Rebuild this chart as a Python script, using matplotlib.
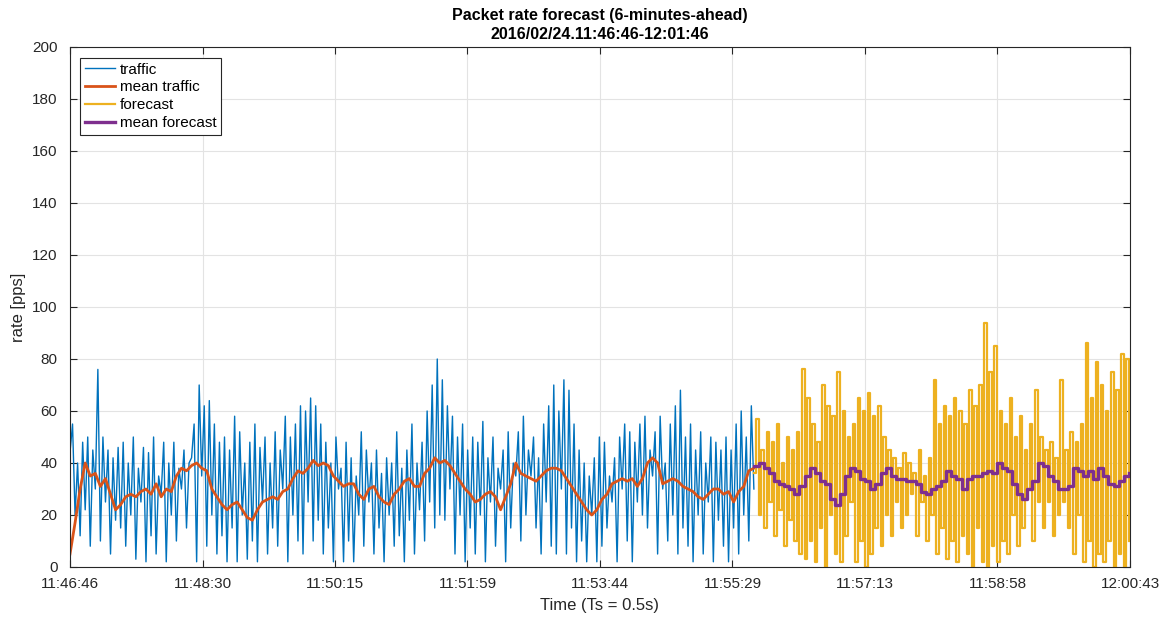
import numpy as np
import matplotlib.pyplot as plt
from datetime import datetime, timedelta

# ---- Data ---- #
start = datetime(2016, 2, 24, 11, 46, 46)
span_s = 837          # x axis length in seconds (11:46:46 -> 12:00:43)
dt_traffic = 2.0      # s between plotted traffic samples
dt_mean = 4.0
fc_start = 540.0

traffic = [
    44, 55, 20, 40, 12, 48, 22, 50, 8, 45, 30, 76, 10, 50, 25, 45, 5, 42, 18, 46,
    15, 48, 8, 40, 20, 50, 3, 38, 25, 46, 2, 44, 12, 50, 5, 35, 28, 48, 2, 40,
    20, 48, 10, 38, 30, 45, 15, 40, 42, 55, 2, 70, 35, 62, 8, 64, 20, 55, 5, 48,
    12, 50, 2, 45, 15, 58, 2, 52, 20, 40, 3, 48, 10, 55, 2, 46, 25, 50, 5, 40,
    15, 52, 8, 45, 30, 58, 2, 50, 20, 55, 10, 62, 5, 60, 25, 65, 10, 62, 18, 55,
    5, 48, 15, 40, 2, 50, 30, 38, 2, 48, 10, 42, 2, 35, 20, 52, 8, 45, 25, 40,
    5, 45, 15, 36, 2, 42, 20, 40, 8, 52, 12, 38, 2, 45, 18, 55, 5, 40, 22, 48,
    10, 60, 25, 70, 15, 80, 20, 72, 18, 62, 30, 58, 5, 50, 20, 55, 2, 45, 15, 50,
    5, 48, 20, 56, 2, 42, 25, 50, 8, 38, 30, 45, 2, 52, 15, 40, 35, 52, 10, 58,
    20, 45, 35, 50, 15, 42, 5, 55, 25, 62, 8, 70, 5, 60, 30, 72, 5, 68, 15, 55,
    2, 45, 10, 40, 2, 35, 20, 42, 2, 50, 8, 48, 15, 35, 25, 42, 2, 50, 30, 55,
    10, 52, 2, 48, 25, 55, 20, 58, 15, 45, 35, 52, 5, 58, 30, 40, 10, 55, 20, 62,
    5, 68, 15, 50, 8, 55, 2, 45, 20, 52, 5, 40, 25, 50, 2, 48, 18, 45, 8, 50,
    2, 45, 15, 55, 5, 60, 20, 50, 10, 62, 30,
]

mean_traffic = [
    5, 17, 30, 40, 35, 36, 31, 34, 28, 22, 24, 27, 28, 27, 29, 30, 28, 32, 27, 30,
    29, 35, 38, 37, 39, 40, 38, 37, 30, 27, 24, 22, 24, 25, 22, 19, 18, 22, 25, 26,
    27, 26, 29, 30, 34, 37, 36, 38, 41, 39, 40, 39, 35, 33, 31, 32, 32, 28, 26, 30,
    31, 27, 25, 24, 28, 30, 33, 34, 31, 31, 36, 38, 42, 40, 41, 39, 36, 33, 30, 28,
    25, 26, 28, 29, 27, 22, 27, 32, 40, 36, 35, 34, 33, 35, 37, 38, 38, 37, 34, 31,
    28, 25, 22, 20, 22, 26, 28, 32, 33, 34, 33, 34, 31, 34, 40, 42, 40, 32, 33, 34,
    33, 31, 30, 29, 27, 26, 28, 30, 30, 28, 29, 25, 29, 31, 37, 38,
]

forecast = [
    36, 57, 20, 45, 15, 52, 25, 48, 12, 55, 22, 40, 8, 50, 18, 45, 10, 52, 5, 76,
    3, 65, 10, 55, 2, 48, 15, 70, 0, 62, 20, 58, 5, 75, 2, 60, 12, 50, 25, 55,
    2, 65, 10, 60, 0, 67, 5, 58, 15, 62, 8, 50, 20, 45, 12, 42, 25, 38, 15, 44,
    20, 40, 28, 36, 12, 45, 25, 35, 10, 42, 20, 72, 5, 55, 15, 62, 3, 58, 10, 65,
    2, 60, 12, 55, 5, 68, 0, 62, 15, 70, 2, 94, 0, 75, 8, 85, 2, 60, 10, 55,
    5, 65, 20, 50, 8, 58, 15, 45, 30, 55, 10, 68, 25, 50, 15, 45, 25, 48, 12, 42,
    20, 72, 25, 45, 15, 52, 5, 48, 20, 55, 2, 86, 10, 65, 0, 79, 5, 70, 2, 60,
    10, 75, 0, 68, 5, 82, 0, 80, 10,
]

mean_forecast = [
    39, 40, 38, 36, 33, 32, 31, 30, 28, 31, 35, 38, 36, 33, 32, 26, 24, 28, 35, 38,
    37, 34, 33, 30, 32, 36, 38, 35, 34, 34, 33, 33, 32, 29, 28, 30, 31, 33, 37, 35,
    34, 30, 34, 35, 35, 36, 37, 36, 40, 38, 37, 32, 28, 26, 30, 33, 40, 39, 35, 33,
    30, 30, 31, 38, 37, 35, 37, 34, 38, 35, 32, 31, 33, 35, 36,
]

t_traffic = np.arange(len(traffic)) * dt_traffic
t_mean = np.arange(len(mean_traffic)) * dt_mean
t_fc = fc_start + np.arange(len(forecast)) * dt_traffic
t_mfc = fc_start + np.arange(len(mean_forecast)) * dt_mean

# ---- Plot it ---- #
plt.rcParams['font.family'] = ['Liberation Sans', 'DejaVu Sans']
fig = plt.figure(figsize=(11.64, 6.19), dpi=100)
ax = fig.add_axes([70/1164, 52/619, 1060/1164, 520/619])

ax.plot(t_traffic, traffic, color='#0072BD', lw=1.0, label='traffic')
ax.plot(t_mean, mean_traffic, color='#D95319', lw=2.0, label='mean traffic')
ax.plot(t_fc, forecast, color='#EDB120', lw=1.6, drawstyle='steps-post', label='forecast')
ax.plot(t_mfc, mean_forecast, color='#7E2F8E', lw=2.4, drawstyle='steps-post', label='mean forecast')

ax.set_xlim(0, span_s)
ax.set_ylim(0, 200)
ax.set_yticks(np.arange(0, 201, 20))
xt = np.linspace(0, span_s, 9)
ax.set_xticks(xt)
ax.set_xticklabels([(start + timedelta(seconds=float(s))).strftime('%H:%M:%S') for s in xt])

ax.grid(True, color='#e3e3e3', lw=0.8)
ax.set_axisbelow(True)
ax.tick_params(direction='in', top=True, right=True, labelsize=11, colors='#262626', length=5)
ax.tick_params(axis='x', pad=7)
ax.tick_params(axis='y', pad=9)
for sp in ax.spines.values():
    sp.set_color('#262626')
    sp.set_linewidth(0.8)

ax.set_xlabel('Time (Ts = 0.5s)', fontsize=12, color='#262626', labelpad=5)
ax.set_ylabel('rate [pps]', fontsize=12, color='#262626', labelpad=4)
ax.set_title('Packet rate forecast (6-minutes-ahead)\n2016/02/24.11:46:46-12:01:46',
             fontsize=11.5, fontweight='bold', pad=6, linespacing=1.3)

leg = ax.legend(loc='upper left', fontsize=11, handlelength=2.0, handletextpad=0.3,
                labelspacing=0.25, borderpad=0.3, borderaxespad=0, fancybox=False,
                framealpha=1, edgecolor='#262626', bbox_to_anchor=(0.0094, 0.979))
leg.get_frame().set_linewidth(0.8)

plt.savefig('out.png', dpi=100)
